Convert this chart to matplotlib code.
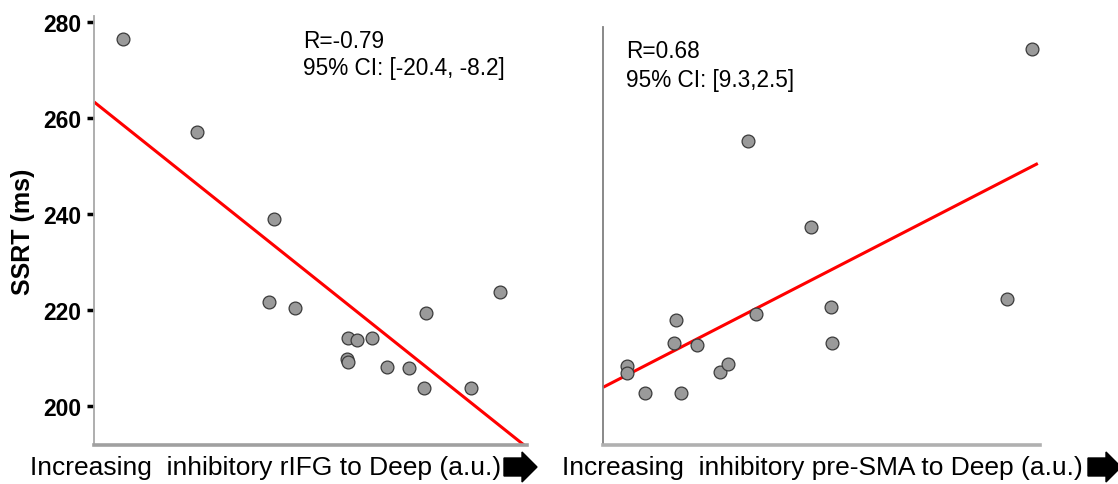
import matplotlib
matplotlib.use("Agg")
import matplotlib.pyplot as plt
from matplotlib.patches import Polygon
from matplotlib.transforms import IdentityTransform

plt.rcParams['font.family'] = ['Liberation Sans', 'DejaVu Sans']

# ---- data ----
rifg_x = [0.66, 2.39, 4.16, 4.05, 4.65, 5.87, 6.07, 6.41, 5.84, 5.87, 6.76, 7.27, 7.66, 7.61, 8.71, 9.38]
rifg_y = [276.5, 257.0, 238.8, 221.7, 220.3, 214.2, 213.7, 214.2, 209.8, 209.2, 208.1, 207.9, 219.3, 203.7, 203.6, 223.6]
rifg_fit_x = [0.0, 9.93]
rifg_fit_y = [263.3, 191.8]

sma_x = [0.55, 0.55, 0.95, 1.66, 1.63, 1.79, 2.16, 2.68, 2.85, 3.50, 5.21, 5.23, 3.31, 4.76, 9.82, 9.24]
sma_y = [208.2, 206.8, 202.6, 217.9, 213.1, 202.7, 212.6, 207.0, 208.6, 219.0, 220.5, 213.1, 255.1, 237.2, 274.3, 222.2]
sma_fit_x = [0.0, 9.95]
sma_fit_y = [203.8, 250.4]

yticks = [200, 220, 240, 260, 280]
ylabel = "SSRT (ms)"
xlabels = ["Increasing  inhibitory rIFG to Deep (a.u.)",
           "Increasing  inhibitory pre-SMA to Deep (a.u.)"]
stats = [("R=-0.79", "95% CI: [-20.4, -8.2]"),
         ("R=0.68", "95% CI: [9.3,2.5]")]

W, H = 1118, 485
fig = plt.figure(figsize=(W / 100, H / 100), dpi=100)

def axes_px(l, t, r, b):
    return fig.add_axes([l / W, 1 - b / H, (r - l) / W, (b - t) / H])

ax1 = axes_px(94, 17, 527, 446)
ax2 = axes_px(603, 28, 1040, 446)

ax1.set_ylim(191.8, 281.2)
ax2.set_ylim(191.8, 278.8)

for ax, xs, ys, fx, fy in [(ax1, rifg_x, rifg_y, rifg_fit_x, rifg_fit_y),
                           (ax2, sma_x, sma_y, sma_fit_x, sma_fit_y)]:
    ax.set_xlim(0, 10)
    ax.plot(fx, fy, color='#ff0000', lw=2.2, zorder=2, solid_capstyle='butt', clip_on=False)
    ax.scatter(xs, ys, s=85, facecolor='#9a9a9a', edgecolor='#3a3a3a', linewidths=0.9,
               zorder=3, clip_on=False)
    for s in ['top', 'right']:
        ax.spines[s].set_visible(False)
    ax.spines['left'].set_color('#a8a8a8')
    ax.spines['left'].set_linewidth(1.3)
    ax.spines['bottom'].set_color('#a0a0a0')
    ax.spines['bottom'].set_linewidth(2.6)
    ax.set_xticks([])

ax2.spines['left'].set_color('#808080')
ax2.spines['bottom'].set_color('#b0b0b0')
ax2.set_yticks([])

ax1.set_yticks(yticks)
ax1.tick_params(axis='y', length=5, width=2.5, color='black', pad=4, labelsize=16.5)
for lbl in ax1.get_yticklabels():
    lbl.set_fontweight('bold')
ax1.set_ylabel(ylabel, fontsize=18, fontweight='bold', labelpad=6)

# stats text
fs_stat = 16.3
ax1.text(303 / W, 1 - 41 / H, stats[0][0], transform=fig.transFigure, fontsize=fs_stat,
         va='center', ha='left')
ax1.text(303 / W, 1 - 69 / H, stats[0][1], transform=fig.transFigure, fontsize=fs_stat,
         va='center', ha='left')
ax2.text(626 / W, 1 - 52 / H, stats[1][0], transform=fig.transFigure, fontsize=fs_stat,
         va='center', ha='left')
ax2.text(626 / W, 1 - 80 / H, stats[1][1], transform=fig.transFigure, fontsize=fs_stat,
         va='center', ha='left')

# x labels
fig.text(266 / W, 1 - 468 / H, xlabels[0], fontsize=19, ha='center', va='center')
fig.text(822 / W, 1 - 468 / H, xlabels[1], fontsize=19, ha='center', va='center')

# block arrows (figure pixel coords, origin bottom-left)
def block_arrow(x0, xtip, yc, half_body=9, half_head=15, head_len=15):
    pts = [(x0, H - (yc - half_body)), (xtip - head_len, H - (yc - half_body)),
           (xtip - head_len, H - (yc - half_head)), (xtip, H - yc),
           (xtip - head_len, H - (yc + half_head)), (xtip - head_len, H - (yc + half_body)),
           (x0, H - (yc + half_body))]
    fig.patches.append(Polygon(pts, closed=True, facecolor='black', edgecolor='black',
                               transform=IdentityTransform(), figure=fig))

block_arrow(504, 537, 468)
block_arrow(1088, 1121, 468)

fig.savefig("out.png", dpi=100)
